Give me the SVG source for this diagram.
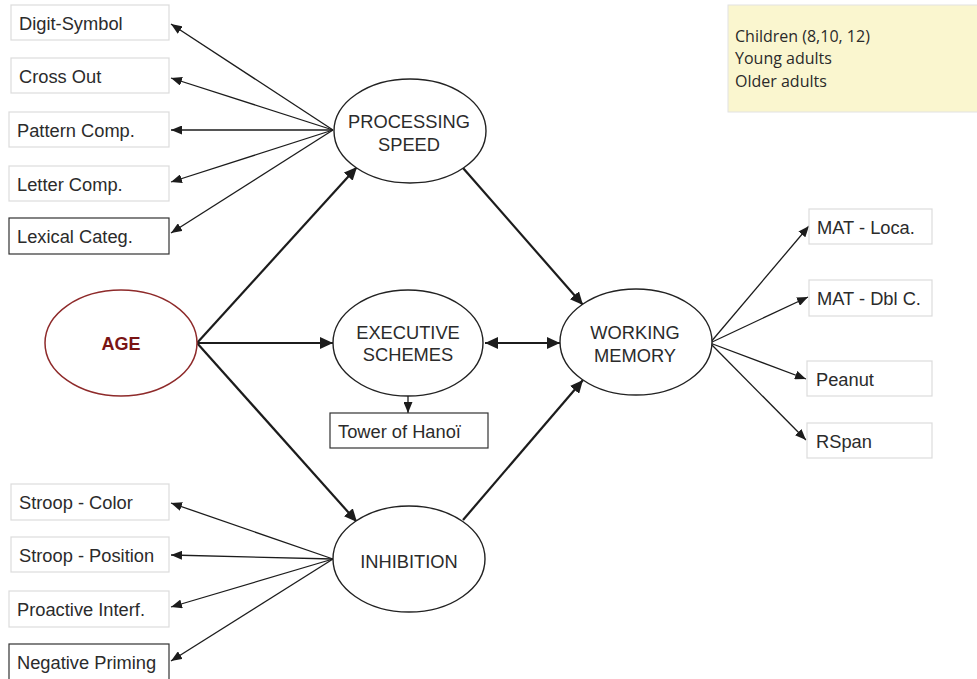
<svg xmlns="http://www.w3.org/2000/svg" width="977" height="679" viewBox="0 0 977 679">
  <defs>
    <style>
      .box { fill: #ffffff; stroke: #dcdcdc; stroke-width: 1.2; }
      .box-dark { fill: #ffffff; stroke: #333333; stroke-width: 1.2; }
      .oval { fill: #ffffff; stroke: #222222; stroke-width: 1.4; }
      .oval-age { fill: #ffffff; stroke: #8e2a2a; stroke-width: 1.5; }
      .lbl { font-family: "Liberation Sans", Arial, sans-serif; font-size: 18.3px; fill: #2b2b2b; }
      .mid { text-anchor: middle; }
      .age { font-family: "Liberation Sans", Arial, sans-serif; font-size: 18px; font-weight: bold; fill: #7a1414; text-anchor: middle; }
      .legend { font-family: "Open Sans", "Noto Sans", sans-serif; font-size: 16px; fill: #2a2a2a; }
      .thick { stroke: #1c1c1c; stroke-width: 2.2; fill: none; marker-end: url(#headBig); }
      .thin { stroke: #1c1c1c; stroke-width: 1.3; fill: none; marker-end: url(#headSmall); }
    </style>
    <marker id="headBig" markerUnits="userSpaceOnUse" markerWidth="14" markerHeight="12" refX="13" refY="6" orient="auto-start-reverse">
      <path d="M0,0 L13,6 L0,12 Z" fill="#1c1c1c"/>
    </marker>
    <marker id="headSmall" markerUnits="userSpaceOnUse" markerWidth="11" markerHeight="9" refX="11" refY="4.5" orient="auto">
      <path d="M0,0 L11,4.5 L0,9 Z" fill="#1c1c1c"/>
    </marker>
  </defs>

  <!-- legend -->
  <g id="legend">
    <rect x="728" y="5" width="252" height="107" fill="#faf6cf" stroke="#e2e2e2" stroke-width="1"/>
    <text class="legend" x="735" y="42">Children (8,10, 12)</text>
    <text class="legend" x="735" y="64">Young adults</text>
    <text class="legend" x="735" y="87">Older adults</text>
  </g>

  <!-- connectors -->
  <g id="connectors">
    <!-- processing speed indicators -->
    <line class="thin" x1="333" y1="130" x2="171" y2="24"/>
    <line class="thin" x1="333" y1="130" x2="171" y2="78"/>
    <line class="thin" x1="333" y1="130" x2="171" y2="130"/>
    <line class="thin" x1="333" y1="130" x2="171" y2="182"/>
    <line class="thin" x1="333" y1="130" x2="171" y2="233"/>
    <!-- inhibition indicators -->
    <line class="thin" x1="333" y1="559" x2="171" y2="503"/>
    <line class="thin" x1="333" y1="559" x2="171" y2="555"/>
    <line class="thin" x1="333" y1="559" x2="171" y2="607"/>
    <line class="thin" x1="333" y1="559" x2="171" y2="661"/>
    <!-- working memory indicators -->
    <line class="thin" x1="710" y1="343" x2="809" y2="226"/>
    <line class="thin" x1="710" y1="343" x2="808" y2="297"/>
    <line class="thin" x1="710" y1="343" x2="806" y2="379"/>
    <line class="thin" x1="710" y1="343" x2="806" y2="440"/>
    <!-- executive schemes indicator -->
    <line class="thin" x1="408" y1="396" x2="408" y2="413"/>
    <!-- structural paths -->
    <line class="thick" x1="197" y1="343" x2="357" y2="167"/>
    <line class="thick" x1="197" y1="343" x2="333" y2="343"/>
    <line class="thick" x1="197" y1="343" x2="357" y2="522"/>
    <line class="thick" x1="463" y1="168" x2="583" y2="305"/>
    <line class="thick" x1="463" y1="520" x2="583" y2="380"/>
    <line class="thick" x1="485" y1="343" x2="560" y2="343" marker-start="url(#headBig)"/>
  </g>

  <!-- latent constructs -->
  <g id="age">
    <ellipse class="oval-age" cx="121" cy="343" rx="76" ry="53"/>
    <text class="age" x="121" y="350">AGE</text>
  </g>
  <g id="processing-speed">
    <ellipse class="oval" cx="410" cy="131" rx="76" ry="52"/>
    <text class="lbl mid" x="409" y="128">PROCESSING</text>
    <text class="lbl mid" x="409" y="151">SPEED</text>
  </g>
  <g id="executive-schemes">
    <ellipse class="oval" cx="408" cy="343" rx="75" ry="53"/>
    <text class="lbl mid" x="408" y="339">EXECUTIVE</text>
    <text class="lbl mid" x="408" y="361">SCHEMES</text>
  </g>
  <g id="working-memory">
    <ellipse class="oval" cx="636" cy="342" rx="76" ry="53"/>
    <text class="lbl mid" x="635" y="339">WORKING</text>
    <text class="lbl mid" x="635" y="362">MEMORY</text>
  </g>
  <g id="inhibition">
    <ellipse class="oval" cx="409" cy="559" rx="76" ry="53"/>
    <text class="lbl mid" x="409" y="568">INHIBITION</text>
  </g>

  <!-- observed measures -->
  <g id="digit-symbol"><rect class="box" x="11" y="5" width="158" height="35"/><text class="lbl" x="19" y="30">Digit-Symbol</text></g>
  <g id="cross-out"><rect class="box" x="11" y="58" width="158" height="35"/><text class="lbl" x="19" y="83">Cross Out</text></g>
  <g id="pattern-comp"><rect class="box" x="9" y="112" width="160" height="35"/><text class="lbl" x="17" y="137">Pattern Comp.</text></g>
  <g id="letter-comp"><rect class="box" x="9" y="166" width="160" height="35"/><text class="lbl" x="17" y="191">Letter Comp.</text></g>
  <g id="lexical-categ"><rect class="box-dark" x="9" y="218" width="160" height="36"/><text class="lbl" x="17" y="243">Lexical Categ.</text></g>

  <g id="stroop-color"><rect class="box" x="11" y="484" width="158" height="36"/><text class="lbl" x="19" y="509">Stroop - Color</text></g>
  <g id="stroop-position"><rect class="box" x="11" y="537" width="158" height="35"/><text class="lbl" x="19" y="562">Stroop - Position</text></g>
  <g id="proactive-interf"><rect class="box" x="9" y="591" width="160" height="36"/><text class="lbl" x="17" y="616">Proactive Interf.</text></g>
  <g id="negative-priming"><rect class="box-dark" x="9" y="644" width="160" height="40"/><text class="lbl" x="17" y="669">Negative Priming</text></g>

  <g id="tower-of-hanoi"><rect class="box-dark" x="330" y="413" width="158" height="35"/><text class="lbl" x="338" y="438">Tower of Hanoï</text></g>

  <g id="mat-loca"><rect class="box" x="809" y="209" width="123" height="35"/><text class="lbl" x="817" y="234">MAT - Loca.</text></g>
  <g id="mat-dbl"><rect class="box" x="809" y="280" width="123" height="36"/><text class="lbl" x="817" y="305">MAT - Dbl C.</text></g>
  <g id="peanut"><rect class="box" x="807" y="361" width="125" height="35"/><text class="lbl" x="816" y="386">Peanut</text></g>
  <g id="rspan"><rect class="box" x="807" y="423" width="125" height="35"/><text class="lbl" x="816" y="448">RSpan</text></g>
</svg>
